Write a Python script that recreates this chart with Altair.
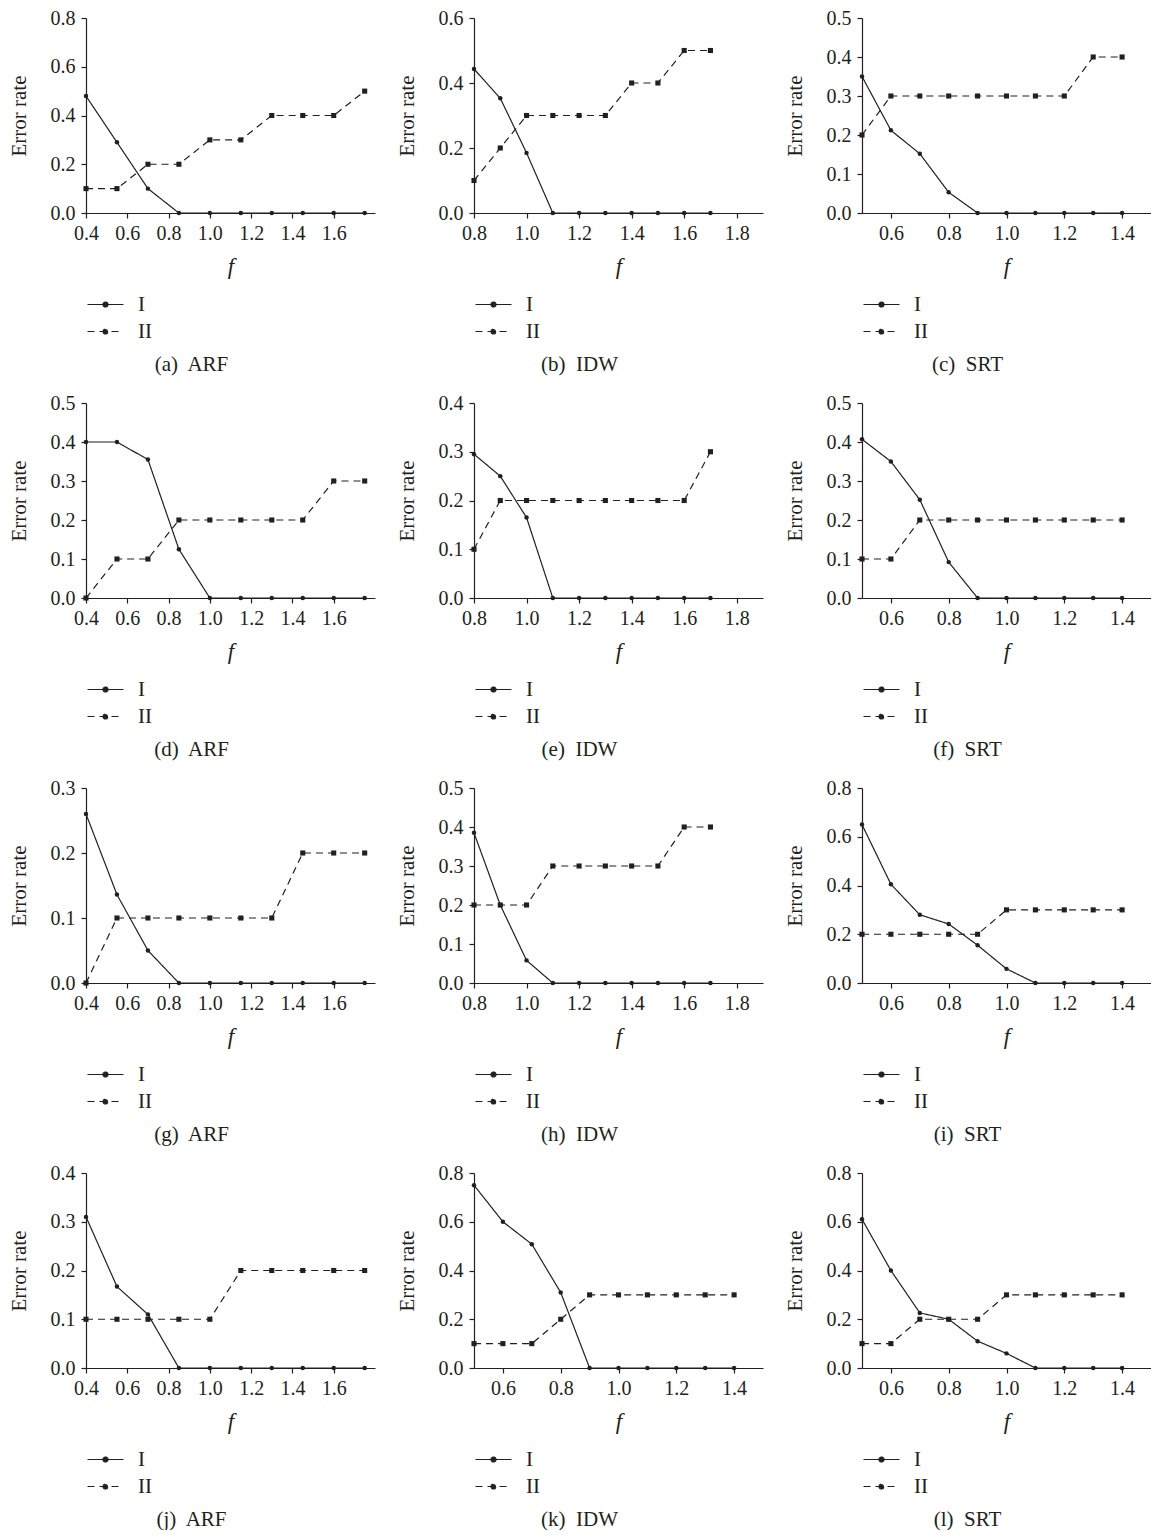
import altair as alt
import pandas as pd

# ---- x values (f) ----
F_ARF = [0.4, 0.55, 0.7, 0.85, 1.0, 1.15, 1.3, 1.45, 1.6, 1.75]
F_IDW = [0.8, 0.9, 1.0, 1.1, 1.2, 1.3, 1.4, 1.5, 1.6, 1.7]
F_SRT = [0.5, 0.6, 0.7, 0.8, 0.9, 1.0, 1.1, 1.2, 1.3, 1.4]

# ---- error rates, series I and II ----
A_I = [0.48, 0.29, 0.10, 0, 0, 0, 0, 0, 0, 0]
A_II = [0.1, 0.1, 0.2, 0.2, 0.3, 0.3, 0.4, 0.4, 0.4, 0.5]
B_I = [0.443, 0.353, 0.185, 0, 0, 0, 0, 0, 0, 0]
B_II = [0.1, 0.2, 0.3, 0.3, 0.3, 0.3, 0.4, 0.4, 0.5, 0.5]
C_I = [0.35, 0.212, 0.152, 0.053, 0, 0, 0, 0, 0, 0]
C_II = [0.2, 0.3, 0.3, 0.3, 0.3, 0.3, 0.3, 0.3, 0.4, 0.4]
D_I = [0.4, 0.4, 0.355, 0.125, 0, 0, 0, 0, 0, 0]
D_II = [0.0, 0.1, 0.1, 0.2, 0.2, 0.2, 0.2, 0.2, 0.3, 0.3]
E_I = [0.295, 0.25, 0.165, 0, 0, 0, 0, 0, 0, 0]
E_II = [0.1, 0.2, 0.2, 0.2, 0.2, 0.2, 0.2, 0.2, 0.2, 0.3]
F_I = [0.407, 0.35, 0.252, 0.092, 0, 0, 0, 0, 0, 0]
F_II = [0.1, 0.1, 0.2, 0.2, 0.2, 0.2, 0.2, 0.2, 0.2, 0.2]
G_I = [0.26, 0.136, 0.05, 0, 0, 0, 0, 0, 0, 0]
G_II = [0.0, 0.1, 0.1, 0.1, 0.1, 0.1, 0.1, 0.2, 0.2, 0.2]
H_I = [0.385, 0.2, 0.058, 0, 0, 0, 0, 0, 0, 0]
H_II = [0.2, 0.2, 0.2, 0.3, 0.3, 0.3, 0.3, 0.3, 0.4, 0.4]
I_I = [0.65, 0.405, 0.28, 0.242, 0.155, 0.058, 0, 0, 0, 0]
I_II = [0.2, 0.2, 0.2, 0.2, 0.2, 0.3, 0.3, 0.3, 0.3, 0.3]
J_I = [0.31, 0.167, 0.11, 0, 0, 0, 0, 0, 0, 0]
J_II = [0.1, 0.1, 0.1, 0.1, 0.1, 0.2, 0.2, 0.2, 0.2, 0.2]
K_I = [0.75, 0.6, 0.508, 0.31, 0, 0, 0, 0, 0, 0]
K_II = [0.1, 0.1, 0.1, 0.2, 0.3, 0.3, 0.3, 0.3, 0.3, 0.3]
L_I = [0.61, 0.4, 0.226, 0.2, 0.11, 0.06, 0, 0, 0, 0]
L_II = [0.1, 0.1, 0.2, 0.2, 0.2, 0.3, 0.3, 0.3, 0.3, 0.3]

NB = "\u00a0"
CAPTIONS = ["(a)" + NB + " ARF", "(b)" + NB + " IDW", "(c)" + NB + " SRT",
            "(d)" + NB + " ARF", "(e)" + NB + " IDW", "(f)" + NB + " SRT",
            "(g)" + NB + " ARF", "(h)" + NB + " IDW", "(i)" + NB + " SRT",
            "(j)" + NB + " ARF", "(k)" + NB + " IDW", "(l)" + NB + " SRT"]
F_LISTS = [F_ARF, F_IDW, F_SRT, F_ARF, F_IDW, F_SRT,
           F_ARF, F_IDW, F_SRT, F_ARF, F_SRT, F_SRT]
SERIES_I = [A_I, B_I, C_I, D_I, E_I, F_I, G_I, H_I, I_I, J_I, K_I, L_I]
SERIES_II = [A_II, B_II, C_II, D_II, E_II, F_II, G_II, H_II, I_II, J_II, K_II, L_II]

# axis tick labels
Y_TICKS = [
    [0.0, 0.2, 0.4, 0.6, 0.8], [0.0, 0.2, 0.4, 0.6], [0.0, 0.1, 0.2, 0.3, 0.4, 0.5],
    [0.0, 0.1, 0.2, 0.3, 0.4, 0.5], [0.0, 0.1, 0.2, 0.3, 0.4], [0.0, 0.1, 0.2, 0.3, 0.4, 0.5],
    [0.0, 0.1, 0.2, 0.3], [0.0, 0.1, 0.2, 0.3, 0.4, 0.5], [0.0, 0.2, 0.4, 0.6, 0.8],
    [0.0, 0.1, 0.2, 0.3, 0.4], [0.0, 0.2, 0.4, 0.6, 0.8], [0.0, 0.2, 0.4, 0.6, 0.8],
]
X_TICKS_ARF = [0.4, 0.6, 0.8, 1.0, 1.2, 1.4, 1.6]
X_TICKS_IDW = [0.8, 1.0, 1.2, 1.4, 1.6, 1.8]
X_TICKS_SRT = [0.6, 0.8, 1.0, 1.2, 1.4]
X_DOM_ARF = [0.4, 1.8]
X_DOM_IDW = [0.8, 1.9]
X_DOM_SRT = [0.5, 1.5]
X_TICKS = [X_TICKS_ARF, X_TICKS_IDW, X_TICKS_SRT] * 3 + [X_TICKS_ARF, X_TICKS_SRT, X_TICKS_SRT]
X_DOMS = [X_DOM_ARF, X_DOM_IDW, X_DOM_SRT] * 3 + [X_DOM_ARF, X_DOM_SRT, X_DOM_SRT]

SERIF = "Liberation Serif"
INK = "#231f20"
W, H = 289, 195

LEGEND_PATH = "M-1,0H3M0.72,0A0.28,0.28,0,1,0,1.28,0A0.28,0.28,0,1,0,0.72,0Z"


def panel(k):
    f = F_LISTS[k]
    rows = []
    for x, v in zip(f, SERIES_I[k]):
        rows.append({"f": x, "rate": v, "series": "I"})
    for x, v in zip(f, SERIES_II[k]):
        rows.append({"f": x, "rate": v, "series": "II"})
    df = pd.DataFrame(rows)

    xenc = alt.X("f:Q",
                 scale=alt.Scale(domain=X_DOMS[k], nice=False, zero=False),
                 axis=alt.Axis(values=X_TICKS[k], format=".1f", title="f",
                               titleFontStyle="italic", titleFontSize=23,
                               titleFontWeight="normal", titlePadding=12,
                               labelFlush=False))
    yenc = alt.Y("rate:Q",
                 scale=alt.Scale(domain=[0, Y_TICKS[k][-1]], nice=False),
                 axis=alt.Axis(values=Y_TICKS[k], format=".1f", title="Error rate",
                               titleFontSize=21, titleFontWeight="normal",
                               titlePadding=21, labelPadding=6))
    base = alt.Chart(df).encode(x=xenc, y=yenc)
    lines = base.mark_line(color=INK, strokeWidth=1.2).encode(
        strokeDash=alt.StrokeDash(
            "series:N",
            scale=alt.Scale(domain=["I", "II"], range=[[1, 0], [7, 5]]),
            legend=alt.Legend(
                title=None, orient="none", legendX=0, legendY=H + 81,
                direction="vertical",
                symbolType=LEGEND_PATH, symbolSize=324,
                symbolStrokeWidth=1.2, symbolFillColor=INK, symbolStrokeColor=INK,
                labelFont=SERIF, labelFontSize=21, labelColor=INK,
                labelOffset=31, rowPadding=5,
            ),
        )
    )
    pts = base.mark_point(filled=True, color=INK, opacity=1).encode(
        shape=alt.Shape("series:N",
                        scale=alt.Scale(domain=["I", "II"], range=["circle", "square"]),
                        legend=None),
        size=alt.Size("series:N",
                      scale=alt.Scale(domain=["I", "II"], range=[20, 26]),
                      legend=None),
    )
    return alt.layer(lines, pts).properties(
        width=W, height=H,
        title=alt.TitleParams(CAPTIONS[k], orient="bottom", anchor="middle",
                              frame="bounds",
                              font=SERIF, fontSize=21, fontWeight="normal",
                              color=INK, offset=12),
    ).resolve_scale(strokeDash="independent", shape="independent", size="independent")


chart = alt.concat(*[panel(k) for k in range(12)], columns=3,
                   spacing={"row": 18, "column": 21}).resolve_scale(
    x="independent", y="independent", strokeDash="independent",
    shape="independent", size="independent",
).resolve_legend(strokeDash="independent", shape="independent", size="independent").configure(
    padding=0, background="white",
).configure_view(stroke=None).configure_axis(
    grid=False, domainColor=INK, tickColor=INK, labelColor=INK, titleColor=INK,
    labelFont=SERIF, titleFont=SERIF, labelFontSize=20, domainWidth=1.2,
    tickWidth=1.2, tickSize=5, labelPadding=5,
)

chart.save("out.html", embed_options={"renderer": "svg", "actions": False})
